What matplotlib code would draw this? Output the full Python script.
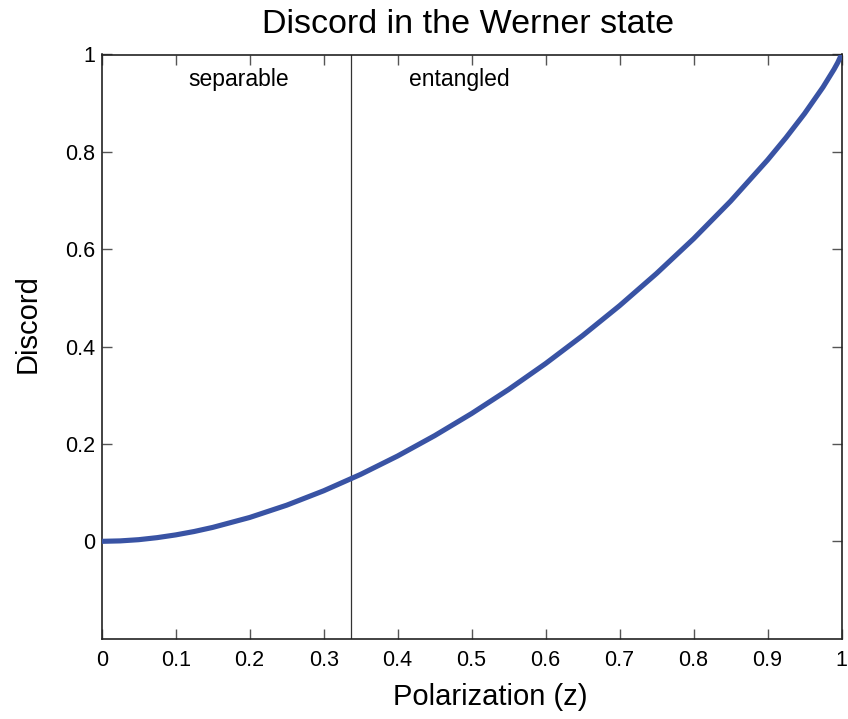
import matplotlib
matplotlib.use("Agg")
import matplotlib.pyplot as plt

# Values
z_vals = [0.0, 0.025, 0.05, 0.075, 0.10, 0.125, 0.15, 0.20, 0.25, 0.30, 0.35, 0.40,
          0.45, 0.50, 0.55, 0.60, 0.65, 0.70, 0.75, 0.80, 0.85, 0.90, 0.925,
          0.95, 0.975, 0.99, 0.995, 1.0]
discord = [0.0, 0.0009, 0.0034, 0.0076, 0.0132, 0.0202, 0.0286, 0.0490, 0.0742,
           0.1038, 0.1375, 0.1753, 0.2170, 0.2625, 0.3119, 0.3651, 0.4225,
           0.4840, 0.5502, 0.6214, 0.6986, 0.7832, 0.8292, 0.8785, 0.9329,
           0.9698, 0.9836, 1.0]
boundary_z = 0.337
xticks = [0, 0.1, 0.2, 0.3, 0.4, 0.5, 0.6, 0.7, 0.8, 0.9, 1]
xtick_labels = ["0", "0.1", "0.2", "0.3", "0.4", "0.5", "0.6", "0.7", "0.8", "0.9", "1"]
yticks = [0, 0.2, 0.4, 0.6, 0.8, 1]
ytick_labels = ["0", "0.2", "0.4", "0.6", "0.8", "1"]

plt.rcParams['font.family'] = ['Liberation Sans', 'DejaVu Sans']

W, H = 848, 719
fig = plt.figure(figsize=(W / 100, H / 100), dpi=100)
left, right, top, bottom = 101.7, 841.5, 54.5, 638.7
aw, ah = right - left, bottom - top
ax = fig.add_axes([left / W, 1 - bottom / H, aw / W, ah / H])

ax.plot(z_vals, discord, color='#3953a4', lw=3.7, solid_capstyle='round',
        solid_joinstyle='round', zorder=3)
ax.axvline(boundary_z, color='#333333', lw=0.9, zorder=2)

ax.set_xlim(0, 1)
ax.set_ylim(-0.2, 1)
ax.set_xticks(xticks)
ax.set_xticklabels(xtick_labels)
ax.set_yticks(yticks)
ax.set_yticklabels(ytick_labels)
ax.tick_params(direction='in', length=7, width=1, color='#555555',
               top=True, right=True, labelsize=15.5)
ax.tick_params(axis='x', pad=8)
ax.tick_params(axis='y', pad=5)
for s in ax.spines.values():
    s.set_linewidth(1.2)
    s.set_color('#222222')

ax.text(0.1855, 0.948, "separable", fontsize=16.5, ha='center', va='center')
ax.text(0.483, 0.948, "entangled", fontsize=16.5, ha='center', va='center')

# Title, axis labels placed like the reference
ax.text((468.5 - left) / aw, (bottom - 33) / ah, "Discord in the Werner state",
        fontsize=24.5, ha='center', va='baseline', transform=ax.transAxes)
ax.text((490 - left) / aw, (bottom - 705) / ah, "Polarization (z)",
        fontsize=21, ha='center', va='baseline', transform=ax.transAxes)
ax.text((36 - left) / aw, (bottom - 324) / ah, "Discord", rotation=90,
        rotation_mode='anchor', fontsize=21, ha='center', va='baseline',
        transform=ax.transAxes)

fig.savefig("out.png", dpi=100)
